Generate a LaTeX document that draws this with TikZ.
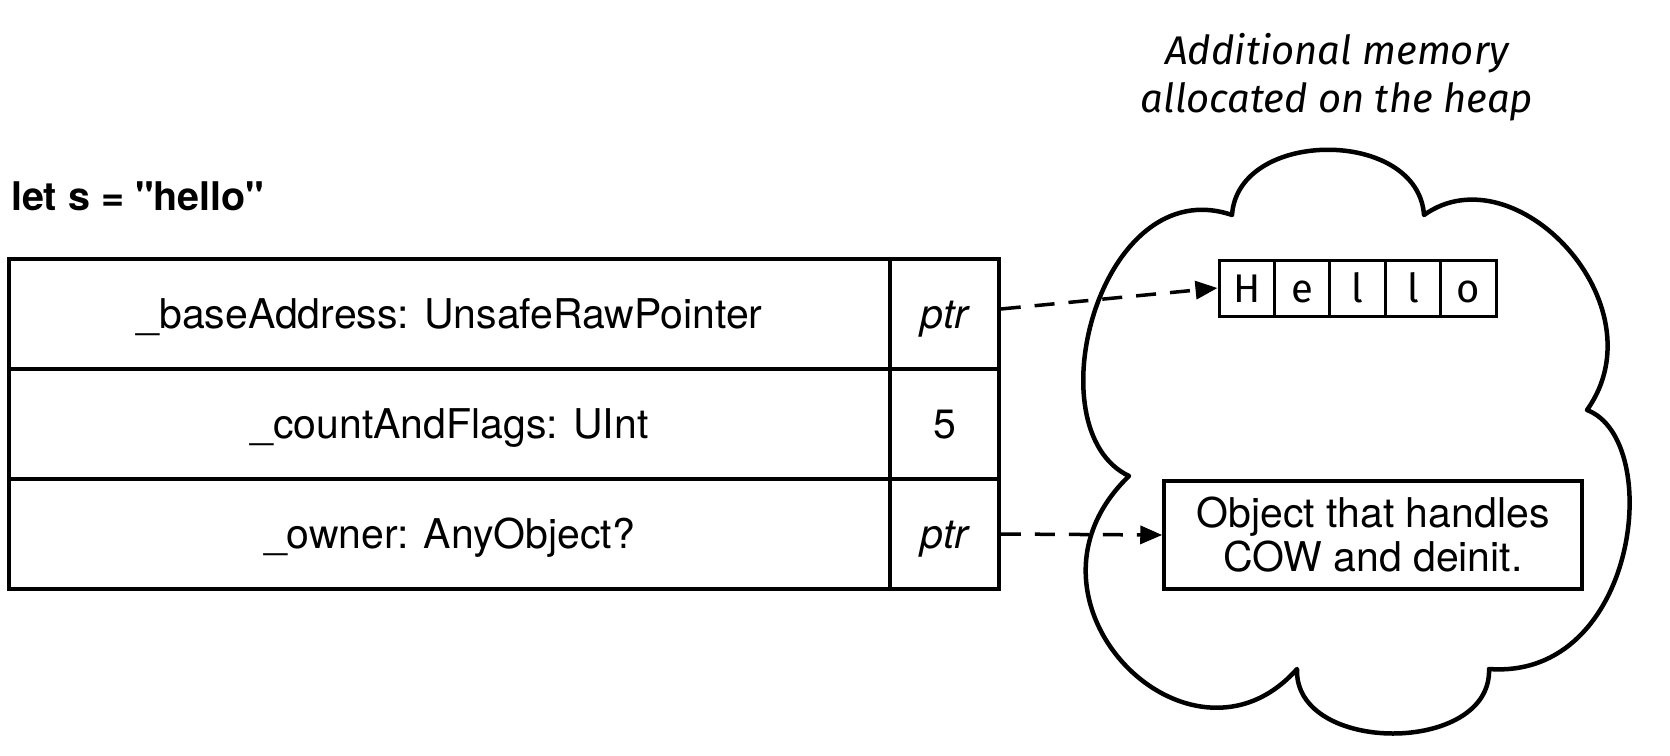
\documentclass[tikz,border=0pt]{standalone}
\usepackage{fontspec}
\setmainfont{TeX Gyre Heros}
\newfontfamily\titlefont{TeX Gyre Heros}[Ligatures=TeXOff]
\newfontfamily\firafont{Fira Sans}
\usetikzlibrary{arrows.meta}
\begin{document}
\begin{tikzpicture}[x=1pt,y=-1pt,
  big/.style={font=\fontsize{41}{44}\selectfont},
  cell/.style={draw, line width=3.5pt, minimum height=110pt, inner sep=0pt,
    text height=28pt, text depth=0pt, big},
  namecell/.style={cell, minimum width=881pt},
  valcell/.style={cell, minimum width=109pt},
  chr/.style={draw, line width=3pt, minimum width=55.4pt, minimum height=56pt,
    inner sep=0pt, text height=28pt, text depth=0pt,
    font=\firafont\fontsize{40}{44}\selectfont},
  objbox/.style={draw, line width=3.5pt, minimum width=418pt, minimum height=108pt,
    inner sep=0pt, align=center, big},
  ptrarrow/.style={line width=3.5pt, dash pattern=on 20pt off 14pt,
    -{Triangle[length=22pt,width=18pt]}},
  cloudline/.style={line width=4.5pt, line join=round}
]
\useasboundingbox (0,0) rectangle (1670,755);

% title
\node[anchor=base west, inner sep=0pt, font=\titlefont\bfseries\fontsize{39.5}{44}\selectfont] (title) at (11,210) {let s = "hello"};

% table
\node[namecell] (r1) at (449.5,314) {\_baseAddress: UnsafeRawPointer};
\node[valcell]  (p1) at (944.5,314) {\itshape ptr};
\node[namecell] (r2) at (449.5,424) {\_countAndFlags: UInt};
\node[valcell]  (p2) at (944.5,424) {5};
\node[namecell] (r3) at (449.5,534) {\_owner: AnyObject?};
\node[valcell]  (p3) at (944.5,534) {\itshape ptr};

% heading
\node[align=center, inner sep=0pt, font=\firafont\itshape\fontsize{40}{48}\selectfont] (heap) at (1337,77) {Additional memory\\allocated on the heap};

% cloud
\draw[cloudline] (1232,215) .. controls (1238,128) and (1418,128) .. (1424,215)
  .. controls (1515,150) and (1662,305) .. (1587,410)
  .. controls (1665,440) and (1638,680) .. (1489,669)
  .. controls (1492,755) and (1294,755) .. (1297,669)
  .. controls (1190,790) and (1000,600) .. (1129,476)
  .. controls (1032,430) and (1100,170) .. (1232,215) -- cycle;

% hello
\node[chr] (h1) at (1246.7,288) {H};
\node[chr] (h2) at (1302.1,288) {e};
\node[chr] (h3) at (1357.5,288) {l};
\node[chr] (h4) at (1412.9,288) {l};
\node[chr] (h5) at (1468.3,288) {o};

% object
\node[objbox] (obj) at (1373,535) {Object that handles\\COW and deinit.};

% arrows
\draw[ptrarrow] ([yshift=5pt]p1.east) -- (h1.west);
\draw[ptrarrow] (p3.east) -- (obj.west);
\end{tikzpicture}
\end{document}
